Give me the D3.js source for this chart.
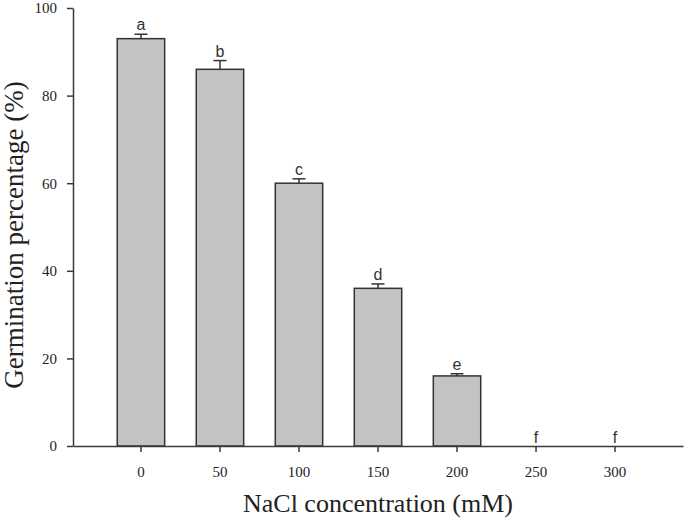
<!DOCTYPE html>
<html>
<head>
<meta charset="utf-8">
<script src="https://cdn.jsdelivr.net/npm/d3@7"></script>
<style>
  html, body { margin: 0; padding: 0; background: #fff; }
  svg { display: block; }
</style>
</head>
<body>
<svg id="chart" width="685" height="519"></svg>
<script>
const categories = ["0", "50", "100", "150", "200", "250", "300"];
const germination = [93, 86, 60, 36, 16, 0, 0];
const errorUpper = [1.0, 2.0, 1.0, 1.0, 0.5, 0, 0];
const letters = ["a", "b", "c", "d", "e", "f", "f"];
const yTicks = [0, 20, 40, 60, 80, 100];

(function () {
const svg = d3.select("#chart");
const mLeft = 73, mRight = 683, mTop = 8, mBottom = 446;
const axisColor = "#3a3a3a";

const x = d3.scaleBand().domain(categories).range([mLeft, mRight])
  .paddingInner(0.4).paddingOuter(0.56);
const y = d3.scaleLinear().domain([0, 100]).range([mBottom, mTop]);
const bw = x.bandwidth();

// Bars
svg.append("g").selectAll("rect")
  .data(categories.map((c, i) => ({c, v: germination[i]})).filter(d => d.v > 0))
  .join("rect")
  .attr("x", d => x(d.c))
  .attr("y", d => y(d.v))
  .attr("width", bw)
  .attr("height", d => y(0) - y(d.v))
  .attr("fill", "#c3c3c3")
  .attr("stroke", "#333")
  .attr("stroke-width", 1.5);

// Error bars (upper only)
const eb = svg.append("g").attr("stroke", "#333").attr("stroke-width", 1.5);
categories.forEach((c, i) => {
  if (germination[i] <= 0) return;
  const cx = x(c) + bw / 2;
  const yt = y(germination[i] + errorUpper[i]);
  eb.append("line").attr("x1", cx).attr("x2", cx)
    .attr("y1", y(germination[i])).attr("y2", yt);
  eb.append("line").attr("x1", cx - 6.5).attr("x2", cx + 6.5)
    .attr("y1", yt).attr("y2", yt);
});

// Letters
svg.append("g").selectAll("text")
  .data(categories.map((c, i) => ({c, t: letters[i], hi: germination[i] + errorUpper[i]})))
  .join("text")
  .attr("x", d => x(d.c) + bw / 2)
  .attr("y", d => y(d.hi) - (d.hi > 0 ? 4 : 3))
  .attr("text-anchor", "middle")
  .attr("font-family", "Liberation Sans, Arial, sans-serif")
  .attr("font-size", 16)
  .attr("fill", "#333")
  .text(d => d.t);

// Y axis
const yAxis = svg.append("g")
  .attr("transform", `translate(${mLeft},0)`)
  .call(d3.axisLeft(y).tickValues(yTicks).tickSize(6).tickSizeOuter(0).tickPadding(10));
yAxis.select(".domain").attr("stroke", axisColor).attr("stroke-width", 1.5);
yAxis.selectAll(".tick line").attr("stroke", axisColor).attr("stroke-width", 1.5);
yAxis.selectAll(".tick text")
  .attr("font-family", "Liberation Serif, Times New Roman, serif")
  .attr("font-size", 15).attr("fill", "#222");

// X axis
const xAxis = svg.append("g")
  .attr("transform", `translate(0,${mBottom})`)
  .call(d3.axisBottom(x).tickSize(6).tickSizeOuter(0).tickPadding(14));
xAxis.select(".domain").attr("stroke", axisColor).attr("stroke-width", 1.5);
xAxis.selectAll(".tick line").attr("stroke", axisColor).attr("stroke-width", 1.5);
xAxis.selectAll(".tick text")
  .attr("font-family", "Liberation Serif, Times New Roman, serif")
  .attr("font-size", 15).attr("fill", "#222");

// Axis titles
svg.append("text")
  .attr("x", (mLeft + mRight) / 2).attr("y", 512)
  .attr("text-anchor", "middle")
  .attr("font-family", "Liberation Serif, Times New Roman, serif")
  .attr("font-size", 26).attr("fill", "#222")
  .text("NaCl concentration (mM)");

svg.append("text")
  .attr("transform", `translate(23,${(mTop + mBottom) / 2 + 8}) rotate(-90)`)
  .attr("text-anchor", "middle")
  .attr("font-family", "Liberation Serif, Times New Roman, serif")
  .attr("font-size", 27).attr("fill", "#222")
  .text("Germination percentage (%)");
})();
</script>
</body>
</html>
